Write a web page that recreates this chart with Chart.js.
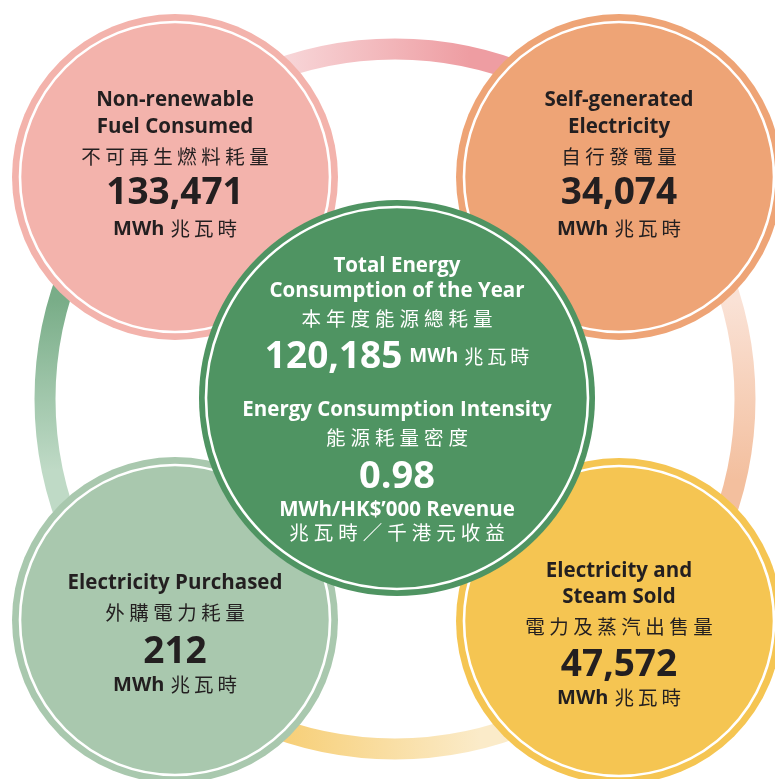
<!DOCTYPE html>
<html>
<head>
<meta charset="utf-8">
<script src="https://cdn.jsdelivr.net/npm/chart.js@4.4.1/dist/chart.umd.min.js"></script>
<style>
  html, body { margin: 0; padding: 0; background: #fff; }
  #wrap { width: 775px; height: 779px; }
</style>
</head>
<body>
<div id="wrap"><canvas id="energy_chart"></canvas></div>
<script>
// datos
const labelsEn = [['Non-renewable', 'Fuel Consumed'], ['Self-generated', 'Electricity'], ['Electricity Purchased'], ['Electricity and', 'Steam Sold']];
const labelsZh = ['不可再生燃料耗量', '自行發電量', '外購電力耗量', '電力及蒸汽出售量'];
const valuesMWh = [133471, 34074, 212, 47572];
const totalLabelEn = ['Total Energy', 'Consumption of the Year'];
const totalLabelZh = '本年度能源總耗量';
const totalMWh = 120185;
const intensityLabelEn = 'Energy Consumption Intensity';
const intensityLabelZh = '能源耗量密度';
const intensity = 0.98;
const intensityUnitEn = 'MWh/HK$\u2019000 Revenue';
const intensityUnitZh = '兆瓦時／千港元收益';
const unitEn = 'MWh';
const unitZh = '兆瓦時';

// layout (pixels in axis units)
const outerPos = [{x: 175, y: 177}, {x: 619, y: 177}, {x: 175, y: 620}, {x: 619, y: 621}];
const outerColors = ['#f3b3ac', '#eea476', '#a9c8ae', '#f5c552'];
const centerPos = {x: 397, y: 398};

const LAT = '"Open Sans", "Noto Sans", sans-serif';
const CJK = '"Noto Sans CJK TC", "Noto Sans CJK SC", sans-serif';
const fmt = v => v.toLocaleString('en-US');

// bubble sin margen extra alrededor del area
class FlatBubble extends Chart.BubbleController {
    getMaxOverflow() { return false; }
}
FlatBubble.id = 'flatBubble';
FlatBubble.defaults = Chart.BubbleController.defaults;
Chart.register(FlatBubble);

function drawRuns(ctx, cx, y, runs) {
    let total = 0;
    runs.forEach(r => {
        ctx.font = r.font;
        ctx.letterSpacing = (r.sp || 0) + 'px';
        r.w = ctx.measureText(r.text).width - (r.sp || 0);
        total += r.w + (r.gap || 0);
    });
    let x = cx - total / 2;
    runs.forEach(r => {
        ctx.font = r.font;
        ctx.letterSpacing = (r.sp || 0) + 'px';
        ctx.fillStyle = r.color;
        ctx.textAlign = 'left';
        ctx.textBaseline = 'middle';
        ctx.fillText(r.text, x, y);
        x += r.w + (r.gap || 0);
    });
    ctx.letterSpacing = '0px';
}

const ringPlugin = {
    id: 'ring',
    beforeDatasetsDraw(chart) {
        const {ctx, scales: {x, y}} = chart;
        const cx = x.getPixelForValue(395), cy = y.getPixelForValue(399);
        const R = x.getPixelForValue(350) - x.getPixelForValue(0);
        const segs = [
            {a0: -0.75 * Math.PI, a1: -0.25 * Math.PI, g: [270, 0, 470, 0], c: ['#f8dadc', '#ee9da2']},
            {a0: -0.25 * Math.PI, a1: 0.25 * Math.PI, g: [0, 300, 0, 480], c: ['#fae2d6', '#f3bf9e']},
            {a0: 0.25 * Math.PI, a1: 0.75 * Math.PI, g: [290, 0, 480, 0], c: ['#f7d07a', '#fbebc9']},
            {a0: 0.75 * Math.PI, a1: 1.25 * Math.PI, g: [0, 300, 0, 470], c: ['#79ad88', '#bfdac6']}
        ];
        ctx.save();
        ctx.lineWidth = 21;
        segs.forEach(s => {
            const gr = ctx.createLinearGradient(s.g[0], s.g[1], s.g[2], s.g[3]);
            gr.addColorStop(0, s.c[0]);
            gr.addColorStop(1, s.c[1]);
            ctx.strokeStyle = gr;
            ctx.beginPath();
            ctx.arc(cx, cy, R, s.a0, s.a1);
            ctx.stroke();
        });
        ctx.restore();
    },
    afterDatasetDraw(chart, args) {
        const {ctx} = chart;
        const meta = args.meta;
        ctx.save();
        meta.data.forEach((el) => {
            const r = el.options.radius;
            ctx.strokeStyle = '#ffffff';
            ctx.lineWidth = 2.6;
            ctx.beginPath();
            ctx.arc(el.x, el.y, r - (args.index === 0 ? 7 : 8), 0, Math.PI * 2);
            ctx.stroke();
        });
        const dark = '#231f20', white = '#ffffff';
        if (args.index === 1) {
            const offs = [[-77, -50, -20, 16, 52], [-77, -50, -20, 16, 52], [-37, -7, 32, 65], [-50, -24, 6, 44, 77]];
            meta.data.forEach((el, i) => {
                const o = offs[i];
                let k = 0;
                labelsEn[i].forEach(t => {
                    drawRuns(ctx, el.x, el.y + o[k++], [{text: t, font: `bold 20.5px ${LAT}`, color: dark}]);
                });
                drawRuns(ctx, el.x, el.y + o[k++], [{text: labelsZh[i], font: `19.5px ${CJK}`, color: dark, sp: 4.5}]);
                drawRuns(ctx, el.x, el.y + o[k++], [{text: fmt(valuesMWh[i]), font: `bold 37px ${LAT}`, color: dark}]);
                drawRuns(ctx, el.x, el.y + o[k++], [
                    {text: unitEn, font: `bold 20px ${LAT}`, color: dark, gap: 6},
                    {text: unitZh, font: `19.5px ${CJK}`, color: dark, sp: 4}
                ]);
            });
        } else {
            const el = meta.data[0];
            const cx = el.x, cy = el.y;
            drawRuns(ctx, cx, cy - 132, [{text: totalLabelEn[0], font: `bold 20.5px ${LAT}`, color: white}]);
            drawRuns(ctx, cx, cy - 107, [{text: totalLabelEn[1], font: `bold 20.5px ${LAT}`, color: white}]);
            drawRuns(ctx, cx, cy - 79, [{text: totalLabelZh, font: `19.5px ${CJK}`, color: white, sp: 5}]);
            drawRuns(ctx, cx, cy - 41, [
                {text: fmt(totalMWh), font: `bold 37px ${LAT}`, color: white, gap: 7},
                {text: unitEn, font: `bold 19px ${LAT}`, color: white, gap: 6},
                {text: unitZh, font: `19px ${CJK}`, color: white, sp: 4}
            ]);
            drawRuns(ctx, cx, cy + 12, [{text: intensityLabelEn, font: `bold 20.5px ${LAT}`, color: white}]);
            drawRuns(ctx, cx, cy + 40, [{text: intensityLabelZh, font: `19.5px ${CJK}`, color: white, sp: 5}]);
            drawRuns(ctx, cx, cy + 79, [{text: intensity.toFixed(2), font: `bold 38px ${LAT}`, color: white}]);
            drawRuns(ctx, cx, cy + 112, [{text: intensityUnitEn, font: `bold 20.5px ${LAT}`, color: white}]);
            drawRuns(ctx, cx, cy + 135, [{text: intensityUnitZh, font: `19.5px ${CJK}`, color: white, sp: 5}]);
        }
        ctx.restore();
    }
};

let config = {
    type: 'flatBubble',
    data: {
        datasets: [{
            label: 'Total',
            data: [{x: centerPos.x, y: centerPos.y, r: 198}],
            backgroundColor: '#4f9462',
            borderWidth: 0,
            clip: false,
            order: 0
        }, {
            label: 'Components',
            data: outerPos.map((p, i) => ({x: p.x, y: p.y, r: 163, v: valuesMWh[i]})),
            backgroundColor: outerColors,
            borderWidth: 0,
            clip: false,
            order: 1
        }]
    },
    options: {
        responsive: true,
        maintainAspectRatio: false,
        animation: false,
        events: [],
        layout: {padding: 0},
        plugins: {legend: {display: false}, tooltip: {enabled: false}},
        scales: {
            x: {type: 'linear', min: 0, max: 775, display: false},
            y: {type: 'linear', min: 0, max: 779, reverse: true, display: false}
        }
    },
    plugins: [ringPlugin]
};

new Chart(document.getElementById('energy_chart').getContext('2d'), config);
</script>
</body>
</html>
